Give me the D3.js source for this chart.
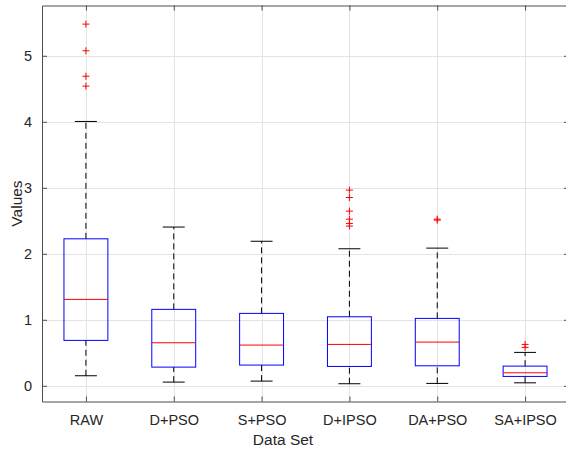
<!DOCTYPE html>
<html>
<head>
<meta charset="utf-8">
<script src="https://cdn.jsdelivr.net/npm/d3@7"></script>
<style>
  html, body { margin: 0; padding: 0; background: #fff; }
  svg { display: block; font-family: "Liberation Sans", Arial, sans-serif; }
</style>
</head>
<body>
<svg id="chart" width="566" height="450"></svg>
<script>
// Box-plot summary per data set
const categories  = ["RAW", "D+PSO", "S+PSO", "D+IPSO", "DA+PSO", "SA+IPSO"];
const whiskerLow  = [0.152, 0.056, 0.071, 0.031, 0.036, 0.045];
const q1          = [0.688, 0.283, 0.314, 0.293, 0.303, 0.142];
const medians     = [1.309, 0.652, 0.617, 0.627, 0.662, 0.197];
const q3          = [2.227, 1.158, 1.097, 1.046, 1.021, 0.298];
const whiskerHigh = [4.005, 2.405, 2.190, 2.076, 2.086, 0.506];
const outliersRAW    = [5.48, 5.076, 4.69, 4.54];
const outliersDPSO   = [];
const outliersSPSO   = [];
const outliersDIPSO  = [2.965, 2.853, 2.646, 2.525, 2.46, 2.42];
const outliersDAPSO  = [2.51, 2.525];
const outliersSAIPSO = [0.627, 0.582];
const yTicks = [0, 1, 2, 3, 4, 5];

const outliers = [outliersRAW, outliersDPSO, outliersSPSO, outliersDIPSO, outliersDAPSO, outliersSAIPSO];

const svg = d3.select("#chart");
const plotLeft = 42, plotRight = 569, plotTop = 5.5, plotBottom = 401.5;

const x = d3.scaleLinear().domain([0.5, 6.5]).range([plotLeft, plotRight]);
const y = d3.scaleLinear().domain([-0.238, 5.762]).range([plotBottom, plotTop]);
const unit = x(1) - x(0);

const axisColor = "#4d4d4d";
const gridColor = "#e3e3e3";

// grid
const grid = svg.append("g");
grid.selectAll("line.gy").data(yTicks).join("line")
  .attr("x1", plotLeft).attr("x2", plotRight)
  .attr("y1", d => Math.round(y(d)) + 0.5).attr("y2", d => Math.round(y(d)) + 0.5)
  .attr("stroke", gridColor).attr("stroke-width", 1);
grid.selectAll("line.gx").data(categories).join("line")
  .attr("x1", (d, i) => Math.round(x(i + 1)) + 0.5).attr("x2", (d, i) => Math.round(x(i + 1)) + 0.5)
  .attr("y1", plotTop).attr("y2", plotBottom)
  .attr("stroke", gridColor).attr("stroke-width", 1);

// axes (ticks pointing inward)
const tickLen = 5;
const yAxisL = d3.axisLeft(y).tickValues(yTicks).tickSizeInner(-tickLen).tickSizeOuter(0)
  .tickPadding(10).tickFormat(d3.format("d"));
const yAxisR = d3.axisRight(y).tickValues(yTicks).tickSizeInner(-tickLen).tickSizeOuter(0).tickFormat("");
const xAxisB = d3.axisBottom(x).tickValues(d3.range(1, 7)).tickSizeInner(-tickLen).tickSizeOuter(0)
  .tickPadding(13).tickFormat(d => categories[d - 1]);
const xAxisT = d3.axisTop(x).tickValues(d3.range(1, 7)).tickSizeInner(-tickLen).tickSizeOuter(0).tickFormat("");

function styleAxis(g) {
  g.attr("font-size", null).attr("font-family", null);
  g.select(".domain").attr("stroke", axisColor);
  g.selectAll(".tick line").attr("stroke", axisColor);
  g.selectAll(".tick text").attr("fill", "#262626").style("font-size", "14.5px")
    .style("font-family", "'Liberation Sans', Arial, sans-serif");
}
svg.append("g").attr("transform", `translate(${plotLeft},0)`).call(yAxisL).call(styleAxis);
svg.append("g").attr("transform", `translate(${plotRight},0)`).call(yAxisR).call(styleAxis);
svg.append("g").attr("transform", `translate(0,${plotBottom})`).call(xAxisB).call(styleAxis);
svg.append("g").attr("transform", `translate(0,${plotTop})`).call(xAxisT).call(styleAxis);

// boxes
const boxes = svg.append("g").selectAll("g").data(categories).join("g");
const halfBox = unit * 0.25, halfCap = unit * 0.125;

boxes.append("line")
  .attr("x1", (d, i) => x(i + 1)).attr("x2", (d, i) => x(i + 1))
  .attr("y1", (d, i) => y(q3[i])).attr("y2", (d, i) => y(whiskerHigh[i]))
  .attr("stroke", "#000").attr("stroke-dasharray", "6,4").attr("stroke-width", 1);
boxes.append("line")
  .attr("x1", (d, i) => x(i + 1)).attr("x2", (d, i) => x(i + 1))
  .attr("y1", (d, i) => y(whiskerLow[i])).attr("y2", (d, i) => y(q1[i]))
  .attr("stroke", "#000").attr("stroke-dasharray", "6,4").attr("stroke-width", 1);
boxes.append("line")
  .attr("x1", (d, i) => x(i + 1) - halfCap).attr("x2", (d, i) => x(i + 1) + halfCap)
  .attr("y1", (d, i) => y(whiskerHigh[i])).attr("y2", (d, i) => y(whiskerHigh[i]))
  .attr("stroke", "#000").attr("stroke-width", 1);
boxes.append("line")
  .attr("x1", (d, i) => x(i + 1) - halfCap).attr("x2", (d, i) => x(i + 1) + halfCap)
  .attr("y1", (d, i) => y(whiskerLow[i])).attr("y2", (d, i) => y(whiskerLow[i]))
  .attr("stroke", "#000").attr("stroke-width", 1);
boxes.append("rect")
  .attr("x", (d, i) => x(i + 1) - halfBox).attr("width", halfBox * 2)
  .attr("y", (d, i) => y(q3[i])).attr("height", (d, i) => y(q1[i]) - y(q3[i]))
  .attr("fill", "none").attr("stroke", "#0000ff").attr("stroke-width", 1);
boxes.append("line")
  .attr("x1", (d, i) => x(i + 1) - halfBox).attr("x2", (d, i) => x(i + 1) + halfBox)
  .attr("y1", (d, i) => y(medians[i])).attr("y2", (d, i) => y(medians[i]))
  .attr("stroke", "#ff0000").attr("stroke-width", 1);

// outliers as '+' markers
const pts = [];
outliers.forEach((arr, i) => arr.forEach(v => pts.push({ i, v })));
const m = 3.5;
svg.append("g").selectAll("path").data(pts).join("path")
  .attr("d", d => {
    const cx = x(d.i + 1), cy = y(d.v);
    return `M${cx - m},${cy}H${cx + m}M${cx},${cy - m}V${cy + m}`;
  })
  .attr("stroke", "#ff0000").attr("stroke-width", 1).attr("fill", "none");

// axis titles
svg.append("text").attr("x", 283).attr("y", 445)
  .attr("text-anchor", "middle").attr("fill", "#262626").style("font-size", "15.5px")
  .text("Data Set");
svg.append("text")
  .attr("transform", `translate(21.5,${(plotTop + plotBottom) / 2}) rotate(-90)`)
  .attr("text-anchor", "middle").attr("fill", "#262626").style("font-size", "15.5px")
  .text("Values");
</script>
</body>
</html>
